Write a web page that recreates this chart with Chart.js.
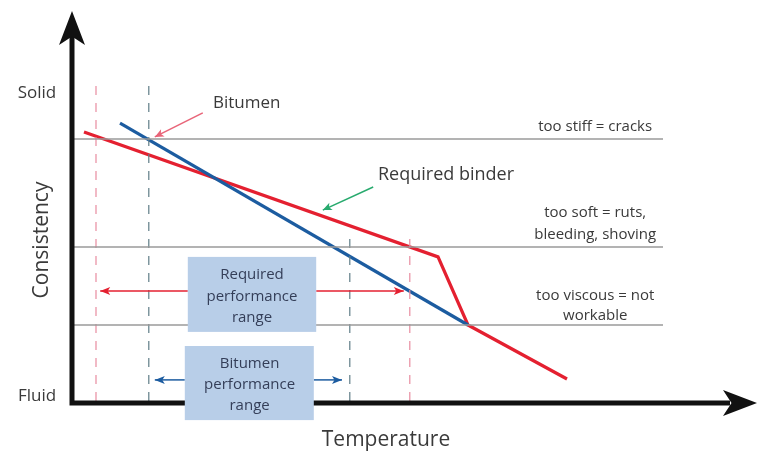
<!DOCTYPE html>
<html>
<head>
<meta charset="utf-8">
<script src="https://cdn.jsdelivr.net/npm/chart.js@4/dist/chart.umd.min.js"></script>
<style>
  html, body { margin: 0; padding: 0; background: #fff; }
  canvas { display: block; }
</style>
</head>
<body>
<canvas id="chart" width="757" height="459"></canvas>
<script>
// Schematic values (temperature 0-100, consistency 0-131)
const bitumenX = [8, 66];
const bitumenY = [93.3, 26];
const binderX = [2, 61, 66, 82.5];
const binderY = [90.3, 48.7, 26, 8];

const limitLevels = [88, 52, 26];
const limitLabels = [['too stiff = cracks'], ['too soft = ruts,', 'bleeding, shoving'], ['too viscous = not', 'workable']];

const requiredRange = [4, 56.3];
const bitumenRange = [12.8, 46.3];

const RED = 'rgb(228, 32, 48)';
const BLUE = 'rgb(28, 92, 160)';
const TEXT = '#3a3a3a';
const FONT = '"Open Sans", sans-serif';

function segment(x0, y0, x1, y1) {
    return [{ x: x0, y: y0 }, { x: x1, y: y1 }];
}

const datasets = [];

// horizontal limit lines
limitLevels.forEach(level => {
    datasets.push({
        data: segment(0, level, 98.5, level),
        borderColor: '#9a9a9a',
        borderWidth: 1.5,
        showLine: true,
        pointRadius: 0
    });
});

// dashed range boundaries
[[requiredRange, 'rgb(232, 140, 160)'], [bitumenRange, 'rgb(95, 125, 135)']].forEach(([range, color]) => {
    datasets.push({ data: segment(range[0], 0.7, range[0], 107.7), borderColor: color, borderWidth: 1.2, borderDash: [9, 8], showLine: true, pointRadius: 0 });
    datasets.push({ data: segment(range[1], 0.7, range[1], 55), borderColor: color, borderWidth: 1.2, borderDash: [9, 8], showLine: true, pointRadius: 0 });
});

datasets.push({
    label: 'Bitumen',
    data: bitumenX.map((x, i) => ({ x: x, y: bitumenY[i] })),
    borderColor: BLUE,
    borderWidth: 3.2,
    showLine: true,
    pointRadius: 0
});

datasets.push({
    label: 'Required binder',
    data: binderX.map((x, i) => ({ x: x, y: binderY[i] })),
    borderColor: RED,
    borderWidth: 3.2,
    showLine: true,
    pointRadius: 0,
    borderJoinStyle: 'miter'
});

function arrowHead(ctx, x0, y0, x1, y1, len, half, color) {
    const a = Math.atan2(y1 - y0, x1 - x0);
    ctx.fillStyle = color;
    ctx.beginPath();
    ctx.moveTo(x1, y1);
    ctx.lineTo(x1 - len * Math.cos(a) + half * Math.sin(a), y1 - len * Math.sin(a) - half * Math.cos(a));
    ctx.lineTo(x1 - len * 0.75 * Math.cos(a), y1 - len * 0.75 * Math.sin(a));
    ctx.lineTo(x1 - len * Math.cos(a) - half * Math.sin(a), y1 - len * Math.sin(a) + half * Math.cos(a));
    ctx.closePath();
    ctx.fill();
}

function arrow(ctx, x0, y0, x1, y1, color, width, len, half) {
    ctx.strokeStyle = color;
    ctx.lineWidth = width;
    ctx.beginPath();
    ctx.moveTo(x0, y0);
    ctx.lineTo(x1, y1);
    ctx.stroke();
    arrowHead(ctx, x0, y0, x1, y1, len, half, color);
}

function textLines(ctx, lines, x, y, lh) {
    lines.forEach((t, i) => ctx.fillText(t, x, y + i * lh));
}

const annotations = {
    id: 'annotations',
    afterDatasetsDraw(chart) {
        const ctx = chart.ctx;
        const xs = chart.scales.x, ys = chart.scales.y;
        const px = v => xs.getPixelForValue(v);
        const py = v => ys.getPixelForValue(v);
        const ox = px(0), oy = py(0);

        ctx.save();

        // axes
        ctx.strokeStyle = '#111';
        ctx.lineWidth = 5;
        ctx.beginPath();
        ctx.moveTo(ox, 36);
        ctx.lineTo(ox, oy);
        ctx.lineTo(730, oy);
        ctx.stroke();
        arrowHead(ctx, ox, oy + 100, ox, 11, 34, 13, '#111');
        arrowHead(ctx, ox, oy, 757, oy, 34, 13, '#111');

        // range arrows
        const yReq = py(37.3), yBit = py(7.7);
        arrow(ctx, px(19.3), yReq, px(requiredRange[0] + 0.7), yReq, RED, 1.5, 10, 4);
        arrow(ctx, px(40.7), yReq, px(requiredRange[1] - 1), yReq, RED, 1.5, 10, 4);
        arrow(ctx, px(18.8), yBit, px(bitumenRange[0] + 1), yBit, BLUE, 1.5, 10, 4);
        arrow(ctx, px(40.3), yBit, px(bitumenRange[1] - 1.3), yBit, BLUE, 1.5, 10, 4);

        // boxes
        ctx.fillStyle = 'rgb(184, 206, 232)';
        ctx.fillRect(px(19.3), py(48.7), px(40.7) - px(19.3), py(23.7) - py(48.7));
        ctx.fillRect(px(18.8), py(19), px(40.3) - px(18.8), py(-5.7) - py(19));

        ctx.textAlign = 'center';
        ctx.textBaseline = 'middle';
        ctx.fillStyle = '#343e58';
        ctx.font = '15px ' + FONT;
        textLines(ctx, ['Required', 'performance', 'range'], px(30), py(42.7), 21.5);
        textLines(ctx, ['Bitumen', 'performance', 'range'], px(29.6), py(13), 21);

        // pointer arrows
        arrow(ctx, px(21.8), py(96.7), px(13.8), py(88.7), 'rgb(232, 100, 120)', 1.5, 9, 4);
        arrow(ctx, px(50.2), py(72), px(41.8), py(64.3), 'rgb(40, 170, 110)', 1.5, 9, 4);

        ctx.fillStyle = TEXT;
        ctx.textAlign = 'left';
        ctx.font = '17px ' + FONT;
        ctx.fillText('Bitumen', px(23.5), py(100));
        ctx.font = '18px ' + FONT;
        ctx.fillText('Required binder', px(51), py(76));

        // limit labels
        ctx.textAlign = 'center';
        ctx.font = '15px ' + FONT;
        textLines(ctx, limitLabels[0], px(87.2), py(92), 20);
        textLines(ctx, limitLabels[1], px(87.2), py(63.3), 22);
        textLines(ctx, limitLabels[2], px(87.2), py(35.7), 20);

        // axis labels
        ctx.font = '17px ' + FONT;
        ctx.fillText('Solid', 37, py(103.3));
        ctx.fillText('Fluid', 37, py(2.3));
        ctx.font = '21px ' + FONT;
        ctx.fillText('Temperature', 386, 440);
        ctx.save();
        ctx.translate(42, 240);
        ctx.rotate(-Math.PI / 2);
        ctx.fillText('Consistency', 0, 0);
        ctx.restore();

        ctx.restore();
    }
};

new Chart(document.getElementById('chart'), {
    type: 'scatter',
    data: { datasets: datasets },
    options: {
        responsive: false,
        animation: false,
        layout: { padding: { left: 72, right: 85, top: 10, bottom: 56 } },
        scales: {
            x: { type: 'linear', min: 0, max: 100, display: false },
            y: { type: 'linear', min: 0, max: 131, display: false }
        },
        plugins: { legend: { display: false }, tooltip: { enabled: false } }
    },
    plugins: [annotations]
});
</script>
</body>
</html>
